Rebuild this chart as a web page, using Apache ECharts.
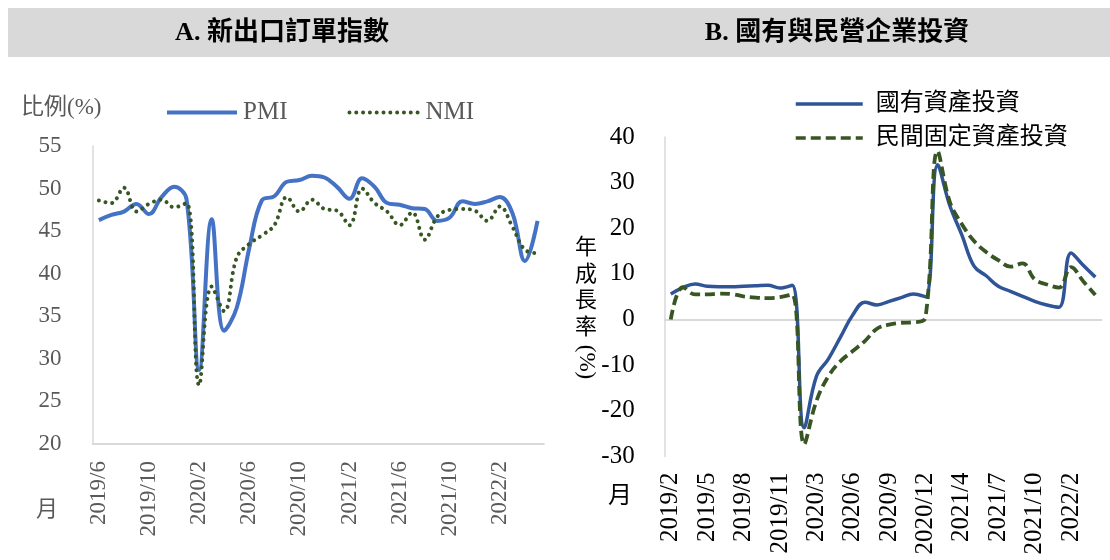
<!DOCTYPE html>
<html>
<head>
<meta charset="utf-8">
<script src="https://cdn.jsdelivr.net/npm/echarts@6/dist/echarts.min.js"></script>
<style>html,body{margin:0;padding:0;background:#fff;}#c{width:1110px;height:560px;}</style>
</head>
<body>
<div id="c"></div>
<script>
// ---- Panel A: new export order indices ----
const leftCats = ['2019/6','2019/7','2019/8','2019/9','2019/10','2019/11','2019/12','2020/1','2020/2','2020/3','2020/4','2020/5','2020/6','2020/7','2020/8','2020/9','2020/10','2020/11','2020/12','2021/1','2021/2','2021/3','2021/4','2021/5','2021/6','2021/7','2021/8','2021/9','2021/10','2021/11','2021/12','2022/1','2022/2','2022/3','2022/4','2022/5'];
const pmi = [46.3,46.9,47.3,48.2,47.0,49.0,50.2,48.7,28.7,46.4,33.3,36.0,43.0,48.6,49.1,50.8,51.0,51.5,51.3,50.2,48.8,51.2,50.2,48.3,48.1,47.7,47.6,46.2,46.6,48.5,48.2,48.5,49.0,47.1,41.5,46.2];
const nmi = [48.6,48.3,50.1,47.3,48.2,48.7,47.8,48.3,26.9,38.5,35.6,41.9,43.5,44.5,45.7,49.0,47.3,48.7,47.6,47.4,45.7,50.0,48.3,47.3,45.7,47.2,44.0,46.7,47.5,47.6,47.4,46.2,47.9,45.5,42.8,42.4];
const leftTicks = {min: 20, max: 55, interval: 5};

// ---- Panel B: state vs private investment (YoY %) ----
const rightCats = ['2019/2','2019/3','2019/4','2019/5','2019/6','2019/7','2019/8','2019/9','2019/10','2019/11','2019/12','2020/2','2020/3','2020/4','2020/5','2020/6','2020/7','2020/8','2020/9','2020/10','2020/11','2020/12','2021/2','2021/3','2021/4','2021/5','2021/6','2021/7','2021/8','2021/9','2021/10','2021/11','2021/12','2022/2','2022/3','2022/4'];
const soeInv = [5.6,7.0,7.8,7.3,7.2,7.2,7.3,7.4,7.5,6.9,7.5,-23.7,-12.5,-8.6,-3.8,1.0,3.8,3.2,4.0,4.8,5.6,5.0,33.9,25.0,18.5,11.7,9.6,7.3,6.2,5.1,4.0,3.2,2.7,14.6,11.9,9.3];
const privInv = [0.0,7.1,5.5,5.5,5.7,5.6,5.1,4.8,4.7,4.9,5.5,-27.3,-17.9,-12.4,-9.1,-6.9,-4.7,-2.0,-1.1,-0.7,-0.6,0.5,36.9,25.8,20.9,17.2,14.8,13.0,11.6,12.3,8.8,7.7,7.0,11.5,8.4,5.4];
const rightTicks = {min: -30, max: 40, interval: 10};

const SERIF = "'Liberation Serif','Noto Sans CJK TC',serif";
const chart = echarts.init(document.getElementById('c'), null, {renderer: 'canvas'});
chart.setOption({
  animation: false,
  backgroundColor: '#ffffff',
  title: [
    {text: 'A. 新出口訂單指數', left: 282, top: 20, textAlign: 'center', padding: 0,
     textStyle: {fontFamily: SERIF, fontWeight: 'bold', fontSize: 26, color: '#000'}},
    {text: 'B. 國有與民營企業投資', left: 837, top: 20, textAlign: 'center', padding: 0,
     textStyle: {fontFamily: SERIF, fontWeight: 'bold', fontSize: 26, color: '#000'}}
  ],
  graphic: [
    {type: 'rect', z: -10, shape: {x: 8, y: 8, width: 1102, height: 49}, style: {fill: '#d9d9d9'}},
    {type: 'text', x: 21, y: 108, style: {text: '比例(%)', fontFamily: SERIF, fontSize: 23, fill: '#595959', verticalAlign: 'middle'}},
    {type: 'text', x: 47, y: 510, style: {text: '月', fontFamily: SERIF, fontSize: 22, fill: '#595959', align: 'center', verticalAlign: 'middle'}},
    {type: 'text', x: 620, y: 497, style: {text: '月', fontFamily: SERIF, fontSize: 24, fill: '#000', align: 'center', verticalAlign: 'middle'}},
    {type: 'text', x: 586, y: 235, style: {text: '年\n成\n長\n率', fontFamily: SERIF, fontSize: 22, lineHeight: 26.5, fill: '#000', align: 'center', verticalAlign: 'top'}},
    {type: 'text', x: 586, y: 362, rotation: -Math.PI / 2, style: {text: '(%)', fontFamily: SERIF, fontSize: 23, fill: '#000', align: 'center', verticalAlign: 'middle'}}
  ],
  legend: [
    {data: ['PMI', 'NMI'], left: 160, top: 95, itemWidth: 70, itemHeight: 14, itemGap: 60,
     itemStyle: {opacity: 0}, lineStyle: {width: 4},
     textStyle: {fontFamily: SERIF, fontSize: 25, color: '#595959', padding: [0, 0, 0, 1]}},
    {data: ['國有資產投資', '民間固定資產投資'], orient: 'vertical', left: 789, top: 87, itemWidth: 67, itemHeight: 14, itemGap: 10,
     itemStyle: {opacity: 0}, lineStyle: {width: 3.5},
     textStyle: {fontFamily: SERIF, fontSize: 24, color: '#000', padding: [0, 0, 0, 8]}}
  ],
  grid: [
    {left: 92.6, top: 146, width: 451.2, height: 298},
    {left: 664.7, top: 137, width: 436.7, height: 319.5}
  ],
  xAxis: [
    {type: 'category', gridIndex: 0, data: leftCats, boundaryGap: true,
     axisLine: {show: true, lineStyle: {color: '#d9d9d9', width: 2}}, axisTick: {show: false},
     axisLabel: {rotate: 90, interval: 3, margin: 17, fontFamily: SERIF, fontSize: 23, color: '#595959'}},
    {type: 'category', gridIndex: 1, data: rightCats, boundaryGap: true, position: 'bottom',
     axisLine: {show: false, onZero: false}, axisTick: {show: false},
     axisLabel: {rotate: 90, interval: 2, margin: 16, fontFamily: SERIF, fontSize: 25, color: '#000'}},
    {type: 'category', gridIndex: 1, data: rightCats, boundaryGap: true, position: 'bottom',
     axisLine: {show: true, onZero: true, lineStyle: {color: '#d9d9d9', width: 2}}, axisTick: {show: false},
     axisLabel: {show: false}, splitLine: {show: false}}
  ],
  yAxis: [
    {type: 'value', gridIndex: 0, min: leftTicks.min, max: leftTicks.max, interval: leftTicks.interval,
     axisLine: {show: true, lineStyle: {color: '#d9d9d9', width: 1.5}}, axisTick: {show: false}, splitLine: {show: false},
     axisLabel: {margin: 31, fontFamily: SERIF, fontSize: 23, color: '#595959'}},
    {type: 'value', gridIndex: 1, min: rightTicks.min, max: rightTicks.max, interval: rightTicks.interval,
     axisLine: {show: true, onZero: false, lineStyle: {color: '#d9d9d9', width: 1.5}}, axisTick: {show: false}, splitLine: {show: false},
     axisLabel: {margin: 30, fontFamily: SERIF, fontSize: 25, color: '#000'}}
  ],
  series: [
    {name: 'PMI', type: 'line', xAxisIndex: 0, yAxisIndex: 0, data: pmi, smooth: 0.4, symbol: 'none',
     lineStyle: {color: '#4472C4', width: 4}, itemStyle: {color: '#4472C4'}},
    {name: 'NMI', type: 'line', xAxisIndex: 0, yAxisIndex: 0, data: nmi, smooth: 0.4, symbol: 'none',
     lineStyle: {color: '#375623', width: 4, type: [0.01, 6.8], cap: 'round'}, itemStyle: {color: '#375623'}},
    {name: '國有資產投資', type: 'line', xAxisIndex: 1, yAxisIndex: 1, data: soeInv, smooth: 0.4, symbol: 'none',
     lineStyle: {color: '#2F5597', width: 3.5}, itemStyle: {color: '#2F5597'}},
    {name: '民間固定資產投資', type: 'line', xAxisIndex: 1, yAxisIndex: 1, data: privInv, smooth: 0.4, symbol: 'none',
     lineStyle: {color: '#375623', width: 3.8, type: [10, 5], cap: 'butt'}, itemStyle: {color: '#375623'}}
  ]
});
</script>
</body>
</html>
